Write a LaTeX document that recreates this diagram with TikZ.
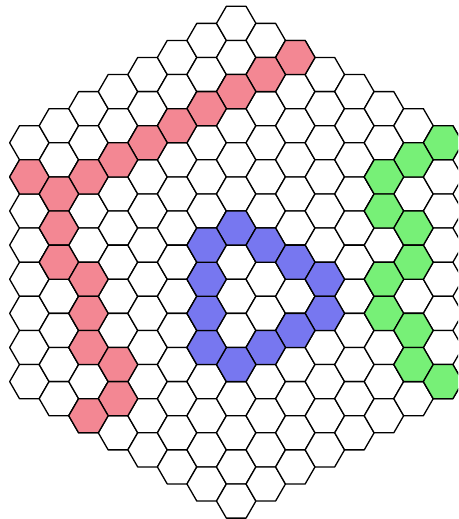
\documentclass[tikz,border=0pt]{standalone}
\definecolor{redcell}{RGB}{243,135,147}
\definecolor{bluecell}{RGB}{119,119,240}
\definecolor{greencell}{RGB}{119,240,119}
\newcommand\hexcellat[3]{%
  \path[cell, fill=#3] ({236.2+(#1)*29.55+19.7},{262.2+(#2)*17.06}) -- ++(-9.85,17.06) -- ++(-19.7,0) -- ++(-9.85,-17.06) -- ++(9.85,-17.06) -- ++(19.7,0) -- cycle;}
\begin{document}
\begin{tikzpicture}[x=1pt,y=-1pt, cell/.style={draw=black, line width=1.3pt, line join=round}]
\useasboundingbox (0,0) rectangle (458,519);
\clip (0,0) rectangle (458,519);
\foreach \c in {-7,...,7}{
  \pgfmathtruncatemacro\n{14-abs(\c)}
  \pgfmathtruncatemacro\mlo{-\n}
  \pgfmathtruncatemacro\mnext{-\n+2}
  \foreach \m in {\mlo,\mnext,...,\n}{
    \hexcellat{\c}{\m}{white}
  }
}
\foreach \c/\m in {2/-12,1/-11,0/-10,-1/-9,-2/-8,-3/-7,-4/-6,-5/-5,-7/-5,-6/-4,-6/-2,-6/0,-5/1,-5/3,-5/5,-4/6,-4/8,-5/9}{
  \hexcellat{\c}{\m}{redcell}
}
\foreach \c/\m in {0/-2,1/-1,2/0,3/1,3/3,2/4,1/5,0/6,-1/5,-1/3,-1/1,-1/-1}{
  \hexcellat{\c}{\m}{bluecell}
}
\foreach \c/\m in {7/-7,6/-6,5/-5,5/-3,6/-2,6/0,5/1,5/3,6/4,6/6,7/7}{
  \hexcellat{\c}{\m}{greencell}
}
\end{tikzpicture}
\end{document}
